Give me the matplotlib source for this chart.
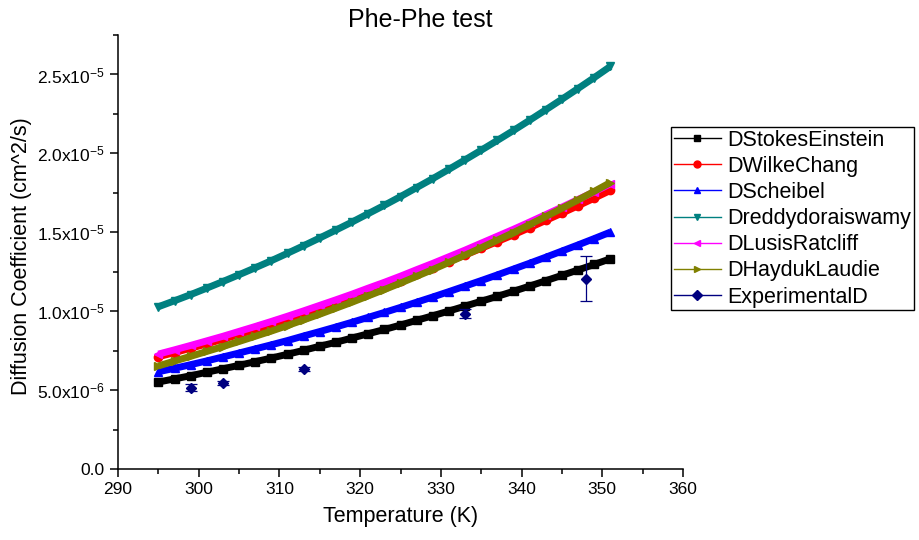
import numpy as np
import matplotlib
matplotlib.use('Agg')
import matplotlib.pyplot as plt
from matplotlib.lines import Line2D
from matplotlib.ticker import MultipleLocator, FuncFormatter

plt.rcParams['font.family'] = ['Liberation Sans', 'DejaVu Sans']
plt.rcParams['mathtext.default'] = 'regular'

# temperature grid of the model curves (K)
temps = [295, 297, 299, 301, 303, 305, 307, 309, 311, 313, 315, 317, 319, 321, 323,
         325, 327, 329, 331, 333, 335, 337, 339, 341, 343, 345, 347, 349, 351]

# model diffusion coefficients, units of 1e-6 cm^2/s
d_stokes = [5.51, 5.71, 5.91, 6.13, 6.35, 6.57, 6.80, 7.03, 7.27, 7.52, 7.78, 8.03, 8.30, 8.57, 8.84,
            9.12, 9.42, 9.71, 10.01, 10.32, 10.63, 10.94, 11.26, 11.59, 11.93, 12.27, 12.61, 12.96, 13.32]
d_wilke = [7.11, 7.38, 7.65, 7.93, 8.22, 8.52, 8.82, 9.13, 9.46, 9.79, 10.13, 10.48, 10.83, 11.20, 11.56,
           11.94, 12.34, 12.73, 13.14, 13.56, 13.98, 14.41, 14.84, 15.29, 15.75, 16.21, 16.68, 17.16, 17.65]
d_scheibel = [6.16, 6.38, 6.61, 6.85, 7.10, 7.35, 7.61, 7.87, 8.14, 8.43, 8.71, 9.00, 9.30, 9.61, 9.92,
              10.24, 10.57, 10.90, 11.24, 11.59, 11.94, 12.30, 12.67, 13.04, 13.42, 13.81, 14.20, 14.60, 15.01]
d_reddy = [10.28, 10.66, 11.05, 11.46, 11.88, 12.31, 12.75, 13.20, 13.67, 14.15, 14.64, 15.14, 15.65, 16.18, 16.71,
           17.26, 17.83, 18.40, 18.99, 19.59, 20.20, 20.82, 21.45, 22.10, 22.76, 23.43, 24.11, 24.80, 25.51]
d_lusis = [7.28, 7.55, 7.83, 8.12, 8.41, 8.72, 9.03, 9.35, 9.68, 10.02, 10.37, 10.72, 11.08, 11.46, 11.83,
           12.22, 12.63, 13.03, 13.45, 13.87, 14.31, 14.75, 15.19, 15.65, 16.12, 16.59, 17.08, 17.56, 18.07]
d_hayduk = [6.53, 6.84, 7.14, 7.45, 7.76, 8.08, 8.41, 8.74, 9.09, 9.45, 9.81, 10.19, 10.57, 10.97, 11.37,
            11.78, 12.21, 12.64, 13.09, 13.55, 14.02, 14.50, 14.98, 15.49, 16.00, 16.52, 17.05, 17.59, 18.15]

# experimental points
exp_temps = [299, 303, 313, 333, 348]
exp_d = [5.14, 5.46, 6.35, 9.83, 12.06]
exp_err = [0.22, 0.13, 0.12, 0.28, 1.41]

names = ['DStokesEinstein', 'DWilkeChang', 'DScheibel', 'Dreddydoraiswamy',
         'DLusisRatcliff', 'DHaydukLaudie', 'ExperimentalD']
colors = ['#000000', '#FF0000', '#0000FF', '#008080', '#FF00FF', '#808000', '#000080']
markers = ['s', 'o', '^', 'v', '<', '>', 'D']
series = [d_stokes, d_wilke, d_scheibel, d_reddy, d_lusis, d_hayduk]

fig = plt.figure(figsize=(9.2, 5.4), dpi=100)
ax = fig.add_axes([118 / 920, 71 / 540, 565 / 920, 434 / 540])

t = np.array(temps)
for vals, c, m in zip(series, colors, markers):
    y = np.array(vals) * 1e-6
    ax.plot(t, y, color=c, lw=5, solid_capstyle='butt')
    ax.plot(t, y, ls='none', marker=m, ms=6, color=c, mec=c)

ax.errorbar(exp_temps, np.array(exp_d) * 1e-6, yerr=np.array(exp_err) * 1e-6,
            fmt='D', ms=5, color=colors[6], ecolor=colors[6], elinewidth=0.9,
            capsize=4, capthick=0.9)

ax.set_xlim(290, 360)
ax.set_ylim(0, 2.75e-5)
ax.xaxis.set_major_locator(MultipleLocator(10))
ax.xaxis.set_minor_locator(MultipleLocator(5))
ax.yaxis.set_major_locator(MultipleLocator(5e-6))
ax.yaxis.set_minor_locator(MultipleLocator(2.5e-6))


def sci_fmt(v, pos):
    if abs(v) < 1e-12:
        return '0.0'
    e = int(np.floor(np.log10(abs(v)) + 1e-9))
    return r'%.1fx10$^{%d}$' % (v / 10 ** e, e)


ax.yaxis.set_major_formatter(FuncFormatter(sci_fmt))
ax.spines['top'].set_visible(False)
ax.spines['right'].set_visible(False)
for s in ['left', 'bottom']:
    ax.spines[s].set_linewidth(1.1)
ax.tick_params(which='major', direction='out', length=6, width=1.1, labelsize=12.5)
ax.tick_params(which='minor', direction='out', length=3.5, width=1.1)

ax.set_xlabel('Temperature (K)', fontsize=15.5, labelpad=6)
fig.text(22 / 920, 1 - 256 / 540, 'Diffusion Coefficient (cm^2/s)', rotation=90,
         ha='center', va='center', fontsize=15.5)
fig.text(420 / 920, 1 - 20 / 540, 'Phe-Phe test', ha='center', va='center', fontsize=18)

handles = [Line2D([0], [0], color=c, lw=1.0, marker=m, ms=5, mec=c)
           for c, m in zip(colors, markers)]
leg = fig.legend(handles, names, loc='upper left', bbox_to_anchor=(671 / 920, 1 - 127 / 540),
                 borderaxespad=0, fontsize=15.5, handlelength=2.2, handletextpad=0.3,
                 labelspacing=0.24, borderpad=0.12, fancybox=False, framealpha=1,
                 edgecolor='black')
leg.get_frame().set_linewidth(1.0)

fig.savefig('out.png', dpi=100)
